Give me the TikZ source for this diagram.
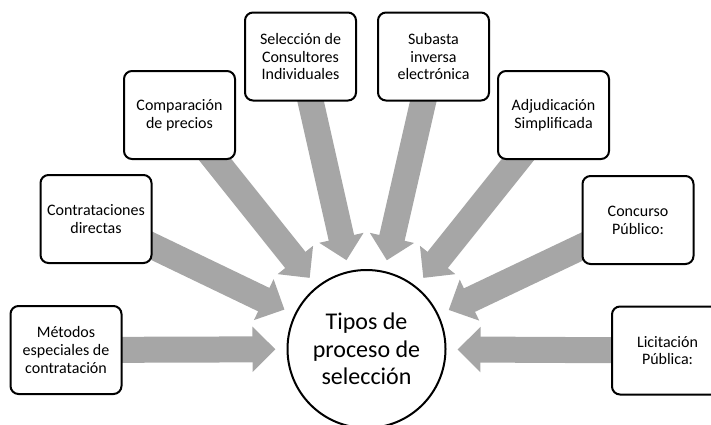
\documentclass[tikz,border=0pt]{standalone}
\usepackage{fontspec}
\setmainfont{Carlito}
\usetikzlibrary{arrows.meta,calc,backgrounds}
\definecolor{arrowgray}{RGB}{166,166,166}
\begin{document}
\begin{tikzpicture}[x=1pt,y=-1pt,
  box/.style={draw=black, line width=2pt, rounded corners=8pt, fill=white,
    minimum width=111pt, minimum height=88pt, align=center,
    font=\fontsize{16}{17.8}\selectfont, inner sep=2pt},
  hub/.style={circle, draw=black, line width=2pt, minimum size=158pt, fill=white,
    align=center, font=\fontsize{24}{27.5}\selectfont, inner sep=0pt},
  flow/.style={draw=arrowgray, line width=26pt, -{Triangle[width=44pt,length=23pt]}}]
\useasboundingbox (0,0) rectangle (711,424);
\node[hub] (c) at (366.5,349) {Tipos de\\proceso de\\selección};
\node[box] (m)  at (66,350)    {Métodos\\especiales de\\contratación};
\node[box] (ct) at (96,219)    {Contrataciones\\directas};
\node[box] (cp) at (179.5,115) {Comparación\\de precios};
\node[box] (se) at (300.5,56.5) {Selección de\\Consultores\\Individuales};
\node[box] (su) at (433.5,56.5) {Subasta\\inversa\\electrónica};
\node[box] (ad) at (553.5,115) {Adjudicación\\Simplificada};
\node[box] (co) at (638,220)   {Concurso\\Público:};
\node[box] (li) at (667.5,350.5) {Licitación\\Pública:};
\begin{scope}[on background layer]
\foreach \n in {m,ct,cp,se,su,ad,co,li}
  \draw[flow] (\n.center) -- ($(c.center)!91pt!(\n.center)$);
\end{scope}
\end{tikzpicture}
\end{document}
